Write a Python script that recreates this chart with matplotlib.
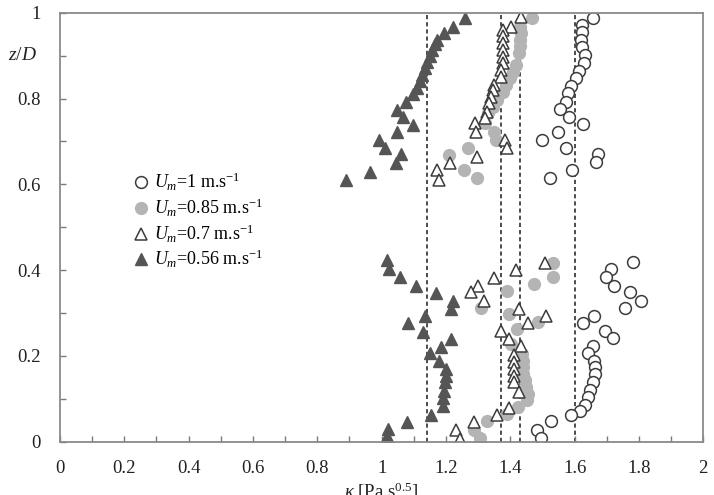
import matplotlib
matplotlib.use("Agg")
import matplotlib.pyplot as plt
from matplotlib.ticker import MultipleLocator

plt.rcParams["font.family"] = "Liberation Serif"
plt.rcParams["mathtext.fontset"] = "custom"
plt.rcParams["mathtext.rm"] = "Liberation Serif"
plt.rcParams["mathtext.it"] = "Liberation Serif:italic"

# Um = 1 m/s (open circles)
k_100 = [1.656, 1.622, 1.622, 1.620, 1.622, 1.632, 1.628, 1.615, 1.604, 1.589, 1.580,
         1.573, 1.555, 1.582, 1.625, 1.549, 1.500, 1.573, 1.672, 1.667, 1.591, 1.524,
         1.783, 1.713, 1.698, 1.722, 1.771, 1.805, 1.757, 1.659, 1.625, 1.695, 1.718,
         1.656, 1.641, 1.659, 1.664, 1.662, 1.656, 1.649, 1.641, 1.632, 1.618, 1.589,
         1.526, 1.483, 1.495]
z_100 = [0.987, 0.971, 0.955, 0.937, 0.920, 0.901, 0.883, 0.864, 0.847, 0.830, 0.812,
         0.793, 0.775, 0.758, 0.740, 0.723, 0.703, 0.685, 0.670, 0.651, 0.633, 0.615,
         0.419, 0.403, 0.384, 0.364, 0.349, 0.329, 0.312, 0.294, 0.277, 0.259, 0.242,
         0.224, 0.206, 0.189, 0.174, 0.157, 0.139, 0.121, 0.104, 0.086, 0.072, 0.063,
         0.047, 0.027, 0.009]

# Um = 0.85 m/s (grey filled circles)
k_085 = [1.469, 1.431, 1.432, 1.431, 1.430, 1.428, 1.417, 1.407, 1.400, 1.386, 1.376,
         1.360, 1.345, 1.331, 1.321, 1.350, 1.355, 1.267, 1.208, 1.256, 1.296,
         1.532, 1.532, 1.474, 1.391, 1.308, 1.397, 1.485, 1.421, 1.402, 1.435, 1.438,
         1.440, 1.440, 1.445, 1.450, 1.455, 1.452, 1.425, 1.391, 1.329, 1.288, 1.306]
z_085 = [0.987, 0.968, 0.953, 0.937, 0.922, 0.906, 0.879, 0.863, 0.847, 0.832, 0.815,
         0.797, 0.781, 0.766, 0.742, 0.723, 0.703, 0.684, 0.668, 0.633, 0.614,
         0.416, 0.384, 0.368, 0.351, 0.312, 0.297, 0.279, 0.263, 0.228, 0.205, 0.189,
         0.174, 0.158, 0.143, 0.127, 0.112, 0.096, 0.080, 0.065, 0.049, 0.027, 0.009]

# Um = 0.7 m/s (open triangles)
k_070 = [1.433, 1.402, 1.376, 1.376, 1.376, 1.376, 1.376, 1.376, 1.372, 1.372, 1.350,
         1.345, 1.340, 1.334, 1.327, 1.321, 1.290, 1.293, 1.383, 1.389, 1.298, 1.212,
         1.173, 1.178,
         1.508, 1.417, 1.350, 1.300, 1.277, 1.317, 1.426, 1.511, 1.456, 1.371, 1.397,
         1.433, 1.410, 1.410, 1.410, 1.410, 1.412, 1.428, 1.395, 1.358, 1.286, 1.231,
         1.244]
z_070 = [0.991, 0.967, 0.960, 0.945, 0.929, 0.914, 0.898, 0.882, 0.867, 0.851, 0.832,
         0.820, 0.804, 0.789, 0.769, 0.754, 0.742, 0.723, 0.703, 0.684, 0.664, 0.649,
         0.633, 0.611,
         0.417, 0.400, 0.382, 0.364, 0.349, 0.329, 0.310, 0.294, 0.277, 0.259, 0.240,
         0.222, 0.201, 0.186, 0.170, 0.154, 0.139, 0.115, 0.079, 0.063, 0.045, 0.026,
         0.006]

# Um = 0.56 m/s (dark filled triangles)
k_056 = [1.260, 1.222, 1.194, 1.173, 1.165, 1.158, 1.150, 1.142, 1.134, 1.127, 1.118,
         1.111, 1.096, 1.075, 1.047, 1.067, 1.099, 1.049, 0.992, 1.012, 1.061, 1.045,
         0.964, 0.888,
         1.016, 1.023, 1.057, 1.106, 1.170, 1.223, 1.215, 1.134, 1.082, 1.130, 1.215,
         1.184, 1.150, 1.177, 1.199, 1.199, 1.196, 1.194, 1.192, 1.192, 1.155, 1.080,
         1.020, 1.018]
z_056 = [0.987, 0.968, 0.953, 0.937, 0.927, 0.913, 0.900, 0.886, 0.871, 0.855, 0.840,
         0.824, 0.810, 0.793, 0.773, 0.758, 0.738, 0.723, 0.703, 0.685, 0.670, 0.649,
         0.629, 0.611,
         0.423, 0.403, 0.384, 0.364, 0.347, 0.329, 0.310, 0.294, 0.277, 0.255, 0.240,
         0.220, 0.206, 0.188, 0.170, 0.154, 0.139, 0.119, 0.102, 0.082, 0.063, 0.045,
         0.030, 0.012]

# dashed reference lines
k_ref = [1.14, 1.37, 1.43, 1.60]

labels = [r"$U_m$=1 m.s$^{-1}$", r"$U_m$=0.85 m.s$^{-1}$",
          r"$U_m$=0.7 m.s$^{-1}$", r"$U_m$=0.56 m.s$^{-1}$"]

fig = plt.figure(figsize=(7.14, 4.95), dpi=100)
ax = fig.add_axes([0.084, 0.108, 0.901, 0.866])

edge = "#3c3c3c"
ms = 8.5
h1, = ax.plot(k_100, z_100, "o", ms=ms, mfc="white", mec=edge, mew=1.1, ls="none")
h2, = ax.plot(k_085, z_085, "o", ms=ms, mfc="#b4b4b4", mec="#b4b4b4", ls="none")
h3, = ax.plot(k_070, z_070, "^", ms=ms, mfc="white", mec=edge, mew=1.1, ls="none")
h4, = ax.plot(k_056, z_056, "^", ms=ms, mfc="#555555", mec="#555555", ls="none")

for k in k_ref:
    ax.axvline(k, color="#2e2e2e", lw=1.2, ls=(0, (2.5, 1.8)), zorder=0)

ax.set_xlim(0, 2)
ax.set_ylim(0, 1)
ax.xaxis.set_major_locator(MultipleLocator(0.2))
ax.xaxis.set_minor_locator(MultipleLocator(0.1))
ax.yaxis.set_major_locator(MultipleLocator(0.2))
ax.yaxis.set_minor_locator(MultipleLocator(0.1))
ax.xaxis.set_major_formatter(plt.FuncFormatter(lambda v, p: f"{v:g}"))
ax.yaxis.set_major_formatter(plt.FuncFormatter(lambda v, p: f"{v:g}"))
ax.tick_params(which="both", direction="in", color="#7a7a7a", labelsize=13.5,
               labelcolor="#222222", length=4, width=1)
ax.tick_params(axis="x", pad=13)
ax.tick_params(axis="y", pad=14)
for sp in ax.spines.values():
    sp.set_color("#8a8a8a")
    sp.set_linewidth(1.3)

ax.text(-0.058, 0.9, r"$z/D$", transform=ax.transAxes, ha="center", va="center",
        fontsize=14, color="#222222")
ax.set_xlabel(r"$\kappa$ [Pa.s$^{0.5}$]", fontsize=13.5, color="#222222", labelpad=3)

ax.legend([h1, h2, h3, h4], labels, loc="upper left", bbox_to_anchor=(0.092, 0.66),
          frameon=False, fontsize=13, handletextpad=0.25, labelspacing=0.2,
          handlelength=1.0, borderpad=0.2)

fig.savefig("out.png", dpi=100)
